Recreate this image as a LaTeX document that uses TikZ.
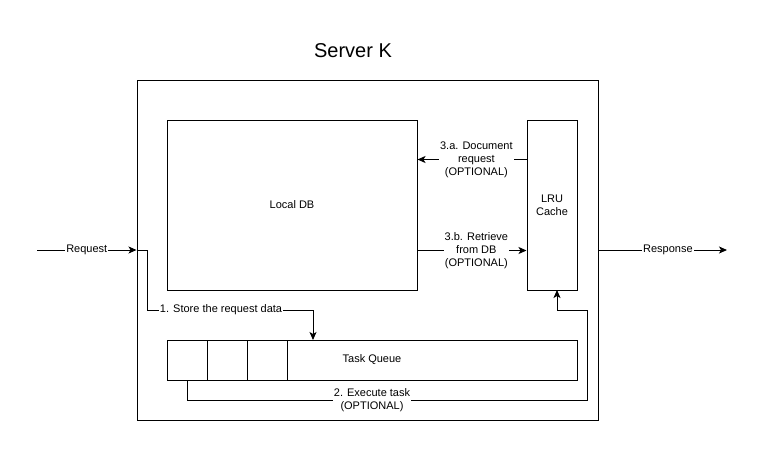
\documentclass[tikz,border=0pt]{standalone}
\usepackage{fontspec}
\setmainfont{Liberation Sans}
\usetikzlibrary{arrows.meta,calc}
\begin{document}
\begin{tikzpicture}[x=1pt,y=-1pt,
  box/.style={draw,line width=1pt,inner sep=0pt,font=\fontsize{11}{13}\selectfont,align=center},
  lbl/.style={fill=white,inner sep=1pt,font=\fontsize{11}{13}\selectfont,align=center},
  arr/.style={line width=1pt,-{Stealth[length=8pt,width=7pt,inset=2pt]}},
  conn/.style={line width=1pt}]
\useasboundingbox (0,0) rectangle (766,451);
\node[font=\fontsize{20}{24}\selectfont] (title) at (353,51) {Server K};
\node[box,minimum width=461pt,minimum height=340pt] (server) at (367.5,250) {};
\node[box,minimum width=250pt,minimum height=170pt] (db) at (292,205) {Local DB};
\node[box,minimum width=50pt,minimum height=170pt] (lru) at (552,205) {LRU\\Cache};
\node[box,minimum width=410pt,minimum height=40pt] (queue) at (372,360) {Task Queue};
\node[box,minimum width=40pt,minimum height=40pt] (c1) at (187,360) {};
\node[box,minimum width=40pt,minimum height=40pt] (c2) at (227,360) {};
\node[box,minimum width=40pt,minimum height=40pt] (c3) at (267,360) {};
\coordinate (reqstart) at (37,250);
\coordinate (respend) at (727,250);
\coordinate (qin) at (313,340);
\coordinate (lin) at (557,290);
% request
\draw[arr] (reqstart) -- node[lbl]{Request} (server.west);
% response
\draw[arr] (server.east) -- node[lbl,pos=0.54]{Response} (respend);
% 1. store
\draw[arr] (server.west) -- (147,250) -- (147,310)
  -- node[lbl,pos=0.446]{1. Store the request data} (313,310) -- (qin);
% 3.a
\coordinate (a1) at ($(lru.north west)+(0,40)$);
\draw[arr] (a1) -- node[lbl,pos=0.46]{3.a. Document\\request\\(OPTIONAL)} (db.east |- a1);
% 3.b
\coordinate (b1) at ($(db.south east)+(0,-40)$);
\draw[arr] (b1) -- node[lbl,pos=0.54]{3.b. Retrieve\\from DB\\(OPTIONAL)} (lru.west |- b1);
% 2. execute
\draw[arr] (c1.south) -- (187,400) -- node[lbl,pos=0.4625]{2. Execute task\\(OPTIONAL)} (587,400)
  -- (587,310) -- (557,310) -- (lin);
\end{tikzpicture}
\end{document}
